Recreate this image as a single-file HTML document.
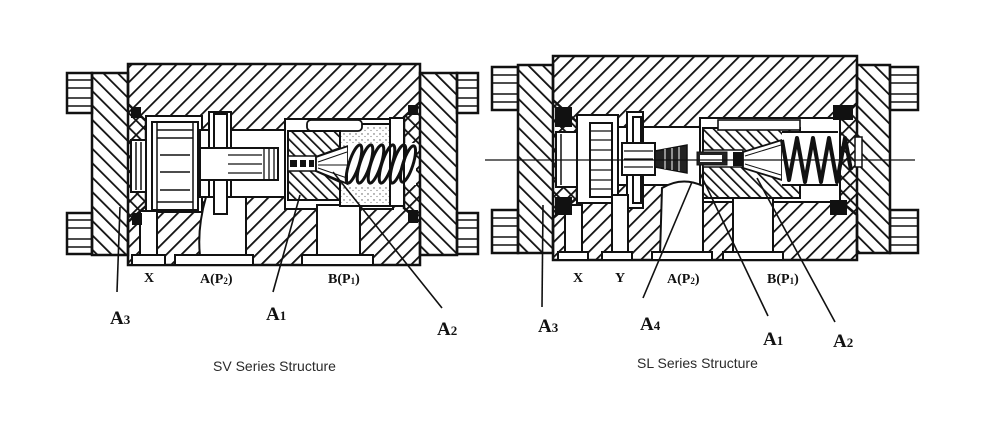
<!DOCTYPE html>
<html><head><meta charset="utf-8">
<style>
html,body{margin:0;padding:0;background:#fff;}
svg{display:block;}
.lbl{font-family:"Liberation Serif",serif;font-weight:bold;fill:#111;}
.cap{font-family:"Liberation Sans",sans-serif;font-size:14px;fill:#2a2a2a;}
</style></head><body>
<svg width="1000" height="437" viewBox="0 0 1000 437" xmlns="http://www.w3.org/2000/svg">
<defs>
<pattern id="f" width="10.6" height="10.6" patternUnits="userSpaceOnUse" patternTransform="rotate(45)"><rect x="0" y="0" width="1.8" height="10.6" fill="#111"/></pattern>
<pattern id="b" width="10.2" height="10.2" patternUnits="userSpaceOnUse" patternTransform="rotate(-45)"><rect x="0" y="0" width="1.8" height="10.2" fill="#111"/></pattern>
<pattern id="bs" width="7.5" height="7.5" patternUnits="userSpaceOnUse" patternTransform="rotate(-45)"><rect width="1.7" height="7.5" fill="#111"/></pattern>
<pattern id="dots" width="6" height="6" patternUnits="userSpaceOnUse"><circle cx="2" cy="2" r="0.7" fill="#555"/><circle cx="5" cy="4.5" r="0.6" fill="#777"/></pattern>
</defs>

<!-- ================= LEFT (SV) ================= -->
<g stroke="#111">
<g fill="#fff" stroke-width="2.5">
<rect x="67" y="73" width="25" height="40"/>
<rect x="67" y="213" width="25" height="41"/>
<rect x="457" y="73" width="21" height="40"/>
<rect x="457" y="213" width="21" height="41"/>
</g>
<g stroke-width="1.5">
<line x1="67" y1="80" x2="92" y2="80"/><line x1="67" y1="88" x2="92" y2="88"/><line x1="67" y1="98" x2="92" y2="98"/><line x1="67" y1="106" x2="92" y2="106"/>
<line x1="67" y1="220" x2="92" y2="220"/><line x1="67" y1="228" x2="92" y2="228"/><line x1="67" y1="239" x2="92" y2="239"/><line x1="67" y1="247" x2="92" y2="247"/>
<line x1="457" y1="80" x2="478" y2="80"/><line x1="457" y1="88" x2="478" y2="88"/><line x1="457" y1="98" x2="478" y2="98"/><line x1="457" y1="106" x2="478" y2="106"/>
<line x1="457" y1="220" x2="478" y2="220"/><line x1="457" y1="228" x2="478" y2="228"/><line x1="457" y1="239" x2="478" y2="239"/><line x1="457" y1="247" x2="478" y2="247"/>
</g>
<rect x="128" y="64" width="292" height="201" fill="url(#f)" stroke-width="2.5"/>
<polygon points="92,73 128,73 128,104 146,121 146,206 128,222 128,255 92,255" fill="url(#b)" stroke-width="2.5"/>
<polygon points="457,73 420,73 420,102 404,117 404,208 420,222 420,255 457,255" fill="url(#b)" stroke-width="2.5"/>
<g fill="#fff" stroke-width="2">
<rect x="131" y="140" width="15" height="52"/>
<rect x="146" y="116" width="56" height="96"/>
<rect x="200" y="130" width="87" height="67"/>
<rect x="209" y="112" width="22" height="104"/>
<rect x="285" y="119" width="108" height="90"/>
<rect x="140" y="211" width="17" height="47"/>
<path d="M206,197 L246,197 L246,256 L200,256 Q197,228 206,197Z"/>
<rect x="317" y="205" width="43" height="51"/>
<rect x="132" y="255" width="33" height="10"/>
<rect x="175" y="255" width="78" height="10"/>
<rect x="302" y="255" width="71" height="10"/>
</g>
<g stroke-width="1.5"><line x1="136" y1="142" x2="136" y2="190"/><line x1="141" y1="142" x2="141" y2="190"/></g>
<rect x="152" y="122" width="46" height="88" fill="#fff" stroke-width="2"/>
<g stroke-width="1.5">
<line x1="157" y1="122" x2="157" y2="210"/><line x1="193" y1="122" x2="193" y2="210"/>
<line x1="157" y1="130" x2="193" y2="130"/><line x1="157" y1="138" x2="193" y2="138"/><line x1="160" y1="155" x2="190" y2="155"/>
<line x1="160" y1="172" x2="190" y2="172"/><line x1="160" y1="190" x2="190" y2="190"/><line x1="157" y1="202" x2="193" y2="202"/>
</g>
<rect x="214" y="114" width="13" height="100" fill="#fff" stroke-width="2"/>
<rect x="200" y="148" width="78" height="32" fill="#fff" stroke-width="2"/>
<g stroke-width="1.3">
<line x1="228" y1="155" x2="262" y2="155"/><line x1="228" y1="164" x2="262" y2="164"/><line x1="228" y1="173" x2="262" y2="173"/>
<line x1="264" y1="148" x2="264" y2="180"/><line x1="269" y1="148" x2="269" y2="180"/><line x1="274" y1="148" x2="274" y2="180"/>
</g>
<rect x="340" y="124" width="50" height="82" fill="#fff" stroke-width="2"/>
<rect x="341" y="125" width="48" height="80" fill="url(#dots)" stroke="none"/>
<rect x="307" y="120" width="55" height="11" fill="#fff" stroke-width="1.8" rx="4"/>
<polygon points="288,131 340,131 340,148 316,157 316,171 340,182 340,200 288,200" fill="url(#bs)" stroke-width="2"/>
<rect x="288" y="156" width="28" height="15" fill="#fff" stroke-width="1.5"/>
<g fill="#111" stroke="none"><rect x="290" y="160" width="7" height="7"/><rect x="300" y="160" width="6" height="7"/><rect x="309" y="160" width="5" height="7"/></g>
<polygon points="316,157 348,146 348,184 316,171" fill="#fff" stroke-width="1.8"/>
<g stroke-width="1"><line x1="318" y1="162" x2="347" y2="152"/><line x1="318" y1="165" x2="347" y2="165"/><line x1="318" y1="168" x2="347" y2="178"/></g>
<rect x="348" y="143" width="68" height="42" fill="#fff" stroke="none"/>
<rect x="390" y="118" width="14" height="88" fill="#fff" stroke-width="2"/>
<g fill="none" stroke-width="3">
<ellipse cx="354" cy="164" rx="5" ry="20" transform="rotate(18 354 164)"/>
<ellipse cx="365" cy="164" rx="5" ry="20" transform="rotate(18 365 164)"/>
<ellipse cx="376" cy="164" rx="5" ry="20" transform="rotate(18 376 164)"/>
<ellipse cx="387" cy="164" rx="5" ry="20" transform="rotate(18 387 164)"/>
<ellipse cx="398" cy="164" rx="5" ry="20" transform="rotate(18 398 164)"/>
<ellipse cx="408" cy="164" rx="5" ry="19" transform="rotate(18 408 164)"/>
</g>
<g fill="#111" stroke="none">
<rect x="131" y="107" width="10" height="11"/>
<rect x="132" y="213" width="10" height="12"/>
<rect x="408" y="105" width="10" height="10"/>
<rect x="408" y="210" width="10" height="13"/>
</g>
<g stroke-width="1.6" fill="none">
<line x1="120" y1="207" x2="117" y2="292"/>
<line x1="300" y1="195" x2="273" y2="292"/>
<line x1="333" y1="172" x2="442" y2="308"/>
</g>
</g>

<!-- ================= RIGHT (SL) ================= -->
<g stroke="#111">
<g fill="#fff" stroke-width="2.5">
<rect x="492" y="67" width="26" height="43"/>
<rect x="492" y="210" width="26" height="43"/>
<rect x="890" y="67" width="28" height="43"/>
<rect x="890" y="210" width="28" height="43"/>
</g>
<g stroke-width="1.5">
<line x1="492" y1="75" x2="518" y2="75"/><line x1="492" y1="83" x2="518" y2="83"/><line x1="492" y1="94" x2="518" y2="94"/><line x1="492" y1="102" x2="518" y2="102"/>
<line x1="492" y1="218" x2="518" y2="218"/><line x1="492" y1="226" x2="518" y2="226"/><line x1="492" y1="237" x2="518" y2="237"/><line x1="492" y1="245" x2="518" y2="245"/>
<line x1="890" y1="75" x2="918" y2="75"/><line x1="890" y1="83" x2="918" y2="83"/><line x1="890" y1="94" x2="918" y2="94"/><line x1="890" y1="102" x2="918" y2="102"/>
<line x1="890" y1="218" x2="918" y2="218"/><line x1="890" y1="226" x2="918" y2="226"/><line x1="890" y1="237" x2="918" y2="237"/><line x1="890" y1="245" x2="918" y2="245"/>
</g>
<rect x="553" y="56" width="304" height="204" fill="url(#f)" stroke-width="2.5"/>
<polygon points="518,65 553,65 553,100 577,122 577,198 553,218 553,253 518,253" fill="url(#b)" stroke-width="2.5"/>
<polygon points="890,65 857,65 857,103 838,121 838,199 857,215 857,253 890,253" fill="url(#b)" stroke-width="2.5"/>
<g fill="#fff" stroke-width="2">
<rect x="556" y="132" width="21" height="55"/>
<rect x="577" y="115" width="41" height="88"/>
<rect x="618" y="127" width="84" height="58"/>
<rect x="627" y="112" width="16" height="96"/>
<rect x="700" y="118" width="140" height="84"/>
<rect x="565" y="205" width="17" height="52"/>
<rect x="612" y="195" width="16" height="62"/>
<path d="M662,188 Q682,176 703,186 L703,255 L660,255 Z"/>
<rect x="733" y="198" width="40" height="54"/>
<rect x="558" y="252" width="30" height="8"/>
<rect x="602" y="252" width="30" height="8"/>
<rect x="652" y="252" width="60" height="8"/>
<rect x="723" y="252" width="60" height="8"/>
</g>
<g stroke-width="1.5"><line x1="561" y1="134" x2="561" y2="185"/></g>
<rect x="590" y="123" width="22" height="74" fill="#fff" stroke-width="2"/>
<g stroke-width="1.3">
<line x1="590" y1="131" x2="612" y2="131"/><line x1="590" y1="140" x2="612" y2="140"/><line x1="590" y1="150" x2="612" y2="150"/><line x1="590" y1="160" x2="612" y2="160"/>
<line x1="590" y1="170" x2="612" y2="170"/><line x1="590" y1="180" x2="612" y2="180"/><line x1="590" y1="189" x2="612" y2="189"/>
</g>
<rect x="633" y="117" width="8" height="86" fill="#fff" stroke-width="2"/>
<rect x="622" y="143" width="33" height="32" fill="#fff" stroke-width="2"/>
<g stroke-width="1.3"><line x1="624" y1="151" x2="653" y2="151"/><line x1="624" y1="159" x2="653" y2="159"/><line x1="624" y1="167" x2="653" y2="167"/></g>
<polygon points="655,151 687,145 687,173 655,167" fill="#222" stroke-width="1.5"/>
<g stroke="#fff" stroke-width="1"><line x1="665" y1="149" x2="665" y2="169"/><line x1="672" y1="148" x2="672" y2="170"/><line x1="679" y1="147" x2="679" y2="171"/></g>
<rect x="703" y="128" width="97" height="70" fill="url(#bs)" stroke-width="2"/>
<rect x="718" y="120" width="82" height="10" fill="#fff" stroke-width="1.6"/>
<rect x="703" y="150" width="40" height="17" fill="#fff" stroke-width="1.5"/>
<rect x="697" y="152" width="30" height="13" fill="#222" stroke-width="1"/>
<rect x="700" y="155" width="22" height="7" fill="#fff" stroke="none"/>
<polygon points="743,152 782,140 782,180 743,168" fill="#fff" stroke-width="1.8"/>
<g stroke-width="1"><line x1="745" y1="156" x2="781" y2="145"/><line x1="745" y1="160" x2="781" y2="160"/><line x1="745" y1="164" x2="781" y2="175"/></g>
<rect x="733" y="152" width="10" height="14" fill="#111" stroke="none"/>
<rect x="782" y="132" width="56" height="53" fill="#fff" stroke="none"/>
<line x1="782" y1="132" x2="838" y2="132" stroke-width="2"/>
<line x1="782" y1="185" x2="838" y2="185" stroke-width="2"/>
<polyline points="782,140 789,180 797,138 805,182 813,138 821,182 829,138 837,182 845,138 851,170" fill="none" stroke-width="4" stroke-linejoin="round"/>
<rect x="855" y="137" width="7" height="30" fill="#fff" stroke-width="1.5"/>
<g fill="#111" stroke="none">
<rect x="555" y="107" width="17" height="20"/>
<rect x="555" y="197" width="17" height="18"/>
<rect x="833" y="105" width="20" height="15"/>
<rect x="830" y="200" width="17" height="15"/>
</g>
<line x1="485" y1="160" x2="915" y2="160" stroke-width="1.2"/>
<g stroke-width="1.6" fill="none">
<line x1="543" y1="205" x2="542" y2="307"/>
<line x1="692" y1="182" x2="643" y2="298"/>
<line x1="700" y1="173" x2="768" y2="316"/>
<line x1="757" y1="178" x2="835" y2="322"/>
</g>
</g>

<!-- ================= LABELS ================= -->
<g class="lbl" font-size="14">
<text x="149" y="282" text-anchor="middle">X</text>
<text x="200" y="283">A(P<tspan font-size="9" dy="1">2</tspan><tspan dy="-1">)</tspan></text>
<text x="328" y="283">B(P<tspan font-size="9" dy="1">1</tspan><tspan dy="-1">)</tspan></text>
<text x="578" y="282" text-anchor="middle">X</text>
<text x="620" y="282" text-anchor="middle">Y</text>
<text x="667" y="283">A(P<tspan font-size="9" dy="1">2</tspan><tspan dy="-1">)</tspan></text>
<text x="767" y="283">B(P<tspan font-size="9" dy="1">1</tspan><tspan dy="-1">)</tspan></text>
</g>
<g class="lbl" font-size="19">
<text x="110" y="324">A<tspan font-size="13">3</tspan></text>
<text x="266" y="320">A<tspan font-size="13">1</tspan></text>
<text x="437" y="335">A<tspan font-size="13">2</tspan></text>
<text x="538" y="332">A<tspan font-size="13">3</tspan></text>
<text x="640" y="330">A<tspan font-size="13">4</tspan></text>
<text x="763" y="345">A<tspan font-size="13">1</tspan></text>
<text x="833" y="347">A<tspan font-size="13">2</tspan></text>
</g>
<text class="cap" x="213" y="371">SV Series Structure</text>
<text class="cap" x="637" y="368">SL Series Structure</text>
</svg>
</body></html>
